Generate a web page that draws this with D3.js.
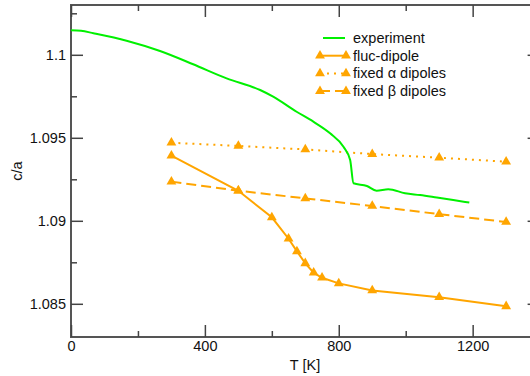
<!DOCTYPE html>
<html>
<head>
<meta charset="utf-8">
<script src="https://cdn.jsdelivr.net/npm/d3@7"></script>
<style>
  body { margin: 0; background: #fff; }
  svg { display: block; font-family: "Liberation Sans", Arial, sans-serif; }
</style>
</head>
<body>
<svg id="chart" width="530" height="376"></svg>
<script>
// experiment (green line)
const expT = [0, 30, 67, 166, 266, 365, 465, 565, 604, 674, 724, 774, 814, 834, 844, 884, 913, 948, 998, 1043, 1093, 1142, 1190];
const expV = [1.10148, 1.10145, 1.1013, 1.10085, 1.10023, 1.09943, 1.09858, 1.09788, 1.09748, 1.09657, 1.09597, 1.09527, 1.09446, 1.09366, 1.09226, 1.0921, 1.09181, 1.0919, 1.09166, 1.09155, 1.0914, 1.09125, 1.0911];

// fluc-dipole
const flucT = [300, 500, 600, 650, 675, 700, 725, 750, 800, 900, 1100, 1300];
const flucV = [1.09392, 1.09181, 1.09021, 1.08892, 1.08816, 1.08744, 1.08687, 1.08657, 1.08623, 1.0858, 1.0854, 1.08485];

// fixed alpha / fixed beta dipoles
const fixedT = [300, 500, 700, 900, 1100, 1300];
const alphaV = [1.0947, 1.09451, 1.0943, 1.09402, 1.0938, 1.09356];
const betaV = [1.09236, 1.09181, 1.09135, 1.09089, 1.0904, 1.08993];

const xTicks = [0, 400, 800, 1200];
const xMinor = [200, 600, 1000];
const yTicks = [1.085, 1.09, 1.095, 1.1];
const yMinor = [1.0875, 1.0925, 1.0975, 1.1025];

const legendItems = [
  {name: "experiment", color: "#00f000", dash: null, marker: false, smooth: true},
  {name: "fluc-dipole", color: "#ffa500", dash: null, marker: true},
  {name: "fixed \u03b1 dipoles", color: "#ffa500", dash: "2,5", marker: true},
  {name: "fixed \u03b2 dipoles", color: "#ffa500", dash: "10,5", marker: true}
];

const svg = d3.select("#chart");
const mLeft = 71, mRight = 539.6, mTop = 5, mBottom = 337;

const x = d3.scaleLinear().domain([0, 1400]).range([mLeft, mRight]);
const y = d3.scaleLinear().domain([1.083, 1.103]).range([mBottom, mTop]);

const axisColor = "#444";
const fs = "14.5px";

// frame
svg.append("rect")
    .attr("x", mLeft).attr("y", mTop)
    .attr("width", mRight - mLeft).attr("height", mBottom - mTop)
    .attr("fill", "none").attr("stroke", "#555").attr("stroke-width", 2);

function styleAxis(g) {
    g.select(".domain").remove();
    g.selectAll(".tick line").attr("stroke", axisColor).attr("stroke-width", 1.5);
    g.selectAll(".tick text").attr("fill", "#111").style("font-size", fs).style("font-family", "Liberation Sans, Arial, sans-serif");
}

// bottom axis
svg.append("g").attr("transform", `translate(0,${mBottom})`)
    .call(d3.axisTop(x).tickValues(xTicks).tickSize(12).tickFormat(""))
    .call(styleAxis);
svg.append("g").attr("transform", `translate(0,${mBottom})`)
    .call(d3.axisTop(x).tickValues(xMinor).tickSize(6).tickFormat(""))
    .call(styleAxis);
svg.append("g").attr("transform", `translate(0,${mBottom})`)
    .call(d3.axisBottom(x).tickValues(xTicks).tickSize(0).tickPadding(4).tickFormat(d3.format("d")))
    .call(styleAxis);

// top axis
svg.append("g").attr("transform", `translate(0,${mTop})`)
    .call(d3.axisBottom(x).tickValues(xTicks).tickSize(12).tickFormat(""))
    .call(styleAxis);
svg.append("g").attr("transform", `translate(0,${mTop})`)
    .call(d3.axisBottom(x).tickValues(xMinor).tickSize(6).tickFormat(""))
    .call(styleAxis);

// left axis
svg.append("g").attr("transform", `translate(${mLeft},0)`)
    .call(d3.axisRight(y).tickValues(yTicks).tickSize(12).tickFormat(""))
    .call(styleAxis);
svg.append("g").attr("transform", `translate(${mLeft},0)`)
    .call(d3.axisRight(y).tickValues(yMinor).tickSize(6).tickFormat(""))
    .call(styleAxis);
svg.append("g").attr("transform", `translate(${mLeft},0)`)
    .call(d3.axisLeft(y).tickValues(yTicks).tickSize(0).tickPadding(5).tickFormat(d => String(+d.toFixed(3))))
    .call(styleAxis);

// right axis
svg.append("g").attr("transform", `translate(${mRight},0)`)
    .call(d3.axisLeft(y).tickValues(yTicks).tickSize(12).tickFormat(""))
    .call(styleAxis);
svg.append("g").attr("transform", `translate(${mRight},0)`)
    .call(d3.axisLeft(y).tickValues(yMinor).tickSize(6).tickFormat(""))
    .call(styleAxis);

// axis titles
svg.append("text")
    .attr("x", 305).attr("y", 370)
    .attr("text-anchor", "middle").style("font-size", fs).attr("fill", "#111")
    .text("T [K]");
svg.append("text")
    .attr("transform", `translate(22,${(mTop + mBottom) / 2}) rotate(-90)`)
    .attr("text-anchor", "middle").style("font-size", fs).attr("fill", "#111")
    .text("c/a");

const line = d3.line().x(d => x(d[0])).y(d => y(d[1]));
const smoothLine = d3.line().x(d => x(d[0])).y(d => y(d[1])).curve(d3.curveMonotoneX);
const tri = d3.symbol().type(d3.symbolTriangle).size(42);

function drawSeries(ts, vs, item) {
    const pts = ts.map((t, i) => [t, vs[i]]);
    svg.append("path")
        .datum(pts)
        .attr("d", item.smooth ? smoothLine : line)
        .attr("fill", "none")
        .attr("stroke", item.color)
        .attr("stroke-width", 2)
        .attr("stroke-dasharray", item.dash);
    if (item.marker) {
        svg.append("g").selectAll("path")
            .data(pts)
            .join("path")
            .attr("d", tri)
            .attr("transform", d => `translate(${x(d[0])},${y(d[1])})`)
            .attr("fill", item.color);
    }
}

drawSeries(fixedT, alphaV, legendItems[2]);
drawSeries(fixedT, betaV, legendItems[3]);
drawSeries(flucT, flucV, legendItems[1]);
drawSeries(expT, expV, legendItems[0]);

// legend
const legend = svg.append("g").attr("transform", "translate(320,38)");
const rows = legend.selectAll("g")
    .data(legendItems)
    .join("g")
    .attr("transform", (d, i) => `translate(0,${i * 17.7})`);
rows.append("line")
    .attr("x1", d => d.marker ? 0 : 3).attr("x2", d => d.marker ? 26 : 25)
    .attr("y1", 0).attr("y2", 0)
    .attr("stroke", d => d.color).attr("stroke-width", 2)
    .attr("stroke-dasharray", d => d.dash);
rows.filter(d => d.marker).selectAll("path")
    .data(d => [[0, d], [26, d]])
    .join("path")
    .attr("d", tri)
    .attr("transform", d => `translate(${d[0]},0)`)
    .attr("fill", d => d[1].color);
rows.append("text")
    .attr("x", 33).attr("y", 5)
    .style("font-size", fs).attr("fill", "#111")
    .text(d => d.name);
</script>
</body>
</html>
